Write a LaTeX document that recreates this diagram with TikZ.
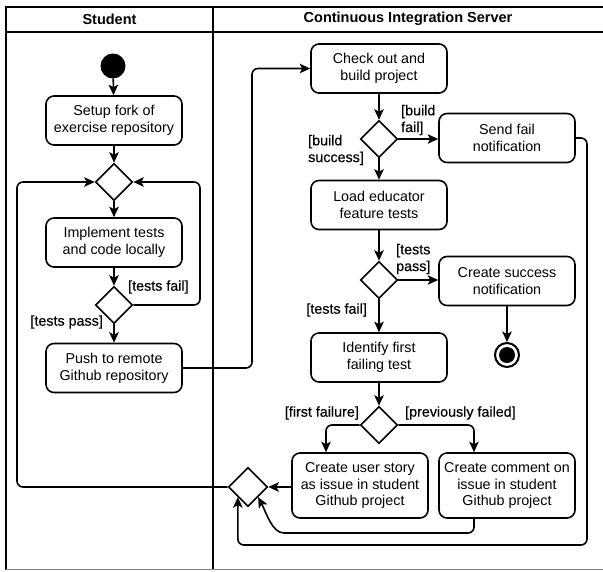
\documentclass[tikz,border=0pt]{standalone}
\usepackage{fontspec}
\setmainfont{Liberation Sans}
\newfontfamily\lblfont[FakeBold=0.4]{Liberation Sans}
\usetikzlibrary{shapes.geometric,arrows.meta}
\begin{document}
\begin{tikzpicture}[x=1pt,y=-1pt,
  every node/.style={font=\fontsize{14.3}{16.7}\selectfont},
  act/.style={draw,rounded corners=8pt,line width=1.6pt,minimum width=136pt,minimum height=49pt,align=center,inner sep=2pt},
  dec/.style={draw,diamond,line width=1.6pt,minimum width=37pt,minimum height=37pt,inner sep=0pt},
  flow/.style={line width=1.6pt,-{Stealth[length=10.5pt,width=9.5pt,inset=2.5pt]},rounded corners=6pt},
  lbl/.style={inner sep=1pt,align=left,font=\lblfont\fontsize{14.3}{16.7}\selectfont},
  lane/.style={line width=2pt},
  hdr/.style={font=\fontsize{14.5}{17}\selectfont\bfseries}]
\useasboundingbox (0,0) rectangle (603,571);
% swimlanes
\draw[lane] (603,7) -- (6,7) -- (6,570);
\draw[lane] (6,32) -- (603,32);
\draw[lane] (213,7) -- (213,570);
\draw[gray,line width=1pt] (6,569.5) -- (603,569.5);
\node[hdr] (h1) at (109.5,19) {Student};
\node[hdr] (h2) at (408,19) {Continuous Integration Server};
% student lane
\node[circle,fill,inner sep=0pt,minimum size=25pt] (start) at (113,66) {};
\node[act] (setup) at (114,120.5) {Setup fork of\\exercise repository};
\node[dec] (d1) at (114,182) {};
\node[act] (impl) at (114,242.5) {Implement tests\\and code locally};
\node[dec] (d2) at (114,305) {};
\node[act] (push) at (114,368) {Push to remote\\Github repository};
% CI lane
\node[act] (checkout) at (379,68.5) {Check out and\\build project};
\node[dec] (d3) at (379,139) {};
\node[act] (sendfail) at (507,138) {Send fail\\notification};
\node[act] (load) at (379,205) {Load educator\\feature tests};
\node[dec] (d4) at (379,280) {};
\node[act] (success) at (507,281) {Create success\\notification};
\node[circle,draw,line width=2pt,minimum size=24pt,inner sep=0pt] (end) at (507,355) {};
\node[circle,fill,minimum size=16pt,inner sep=0pt] (endin) at (end.center) {};
\node[act] (identify) at (379,357.5) {Identify first\\failing test};
\node[dec] (d5) at (379,425) {};
\node[act,minimum height=65pt] (story) at (360,485.5) {Create user story\\as issue in student\\Github project};
\node[act,minimum height=65pt] (comment) at (507,485.5) {Create comment on\\issue in student\\Github project};
\node[dec,minimum width=39pt,minimum height=39pt] (merge) at (248,487) {};
% connectors student
\draw[flow] (start) -- (setup);
\draw[flow] (setup) -- (d1);
\draw[flow] (d1) -- (impl);
\draw[flow] (impl) -- (d2);
\draw[flow] (d2) -- (push);
\draw[flow] (d2.east) -- (200,305) |- (d1.east);
\draw[flow] (merge.west) -- (17,487) |- (d1.west);
\draw[flow] (push.east) -- (252,368) |- (checkout.west);
% connectors CI
\draw[flow] (checkout) -- (d3);
\draw[flow] (d3.east) -- (sendfail.west |- d3.east);
\draw[flow] (d3) -- (load);
\draw[flow] (load) -- (d4);
\draw[flow] (d4.east) -- (success.west |- d4.east);
\draw[flow] (d4) -- (identify);
\draw[flow] (success) -- (end);
\draw[flow] (identify) -- (d5);
\draw[flow] (d5.west) -| ([xshift=-34pt]story.north);
\draw[flow] (d5.east) -| ([xshift=-33pt]comment.north);
\draw[flow] (story.west |- merge.east) -- (merge.east);
\draw[flow] ([xshift=-33pt]comment.south) -- (474,533) -- (290,533) .. controls (272,533) and (266,512) .. (merge.south east);
\draw[flow] (sendfail.east) -- (587,138) -- (587,545) -| (merge.south west);
% labels
\node[lbl,anchor=west] (l1) at (400,120) {[build\\fail]};
\node[lbl,anchor=west] (l2) at (307,150) {[build\\success]};
\node[lbl,anchor=west] (l3) at (395,259) {[tests\\pass]};
\node[lbl,anchor=east] (l4) at (368,310) {[tests fail]};
\node[lbl,anchor=west] (l5) at (127,287) {[tests fail]};
\node[lbl,anchor=east] (l6) at (104,322) {[tests pass]};
\node[lbl,anchor=east] (l7) at (360,413) {[first failure]};
\node[lbl,anchor=west] (l8) at (404,413) {[previously failed]};
\end{tikzpicture}
\end{document}
